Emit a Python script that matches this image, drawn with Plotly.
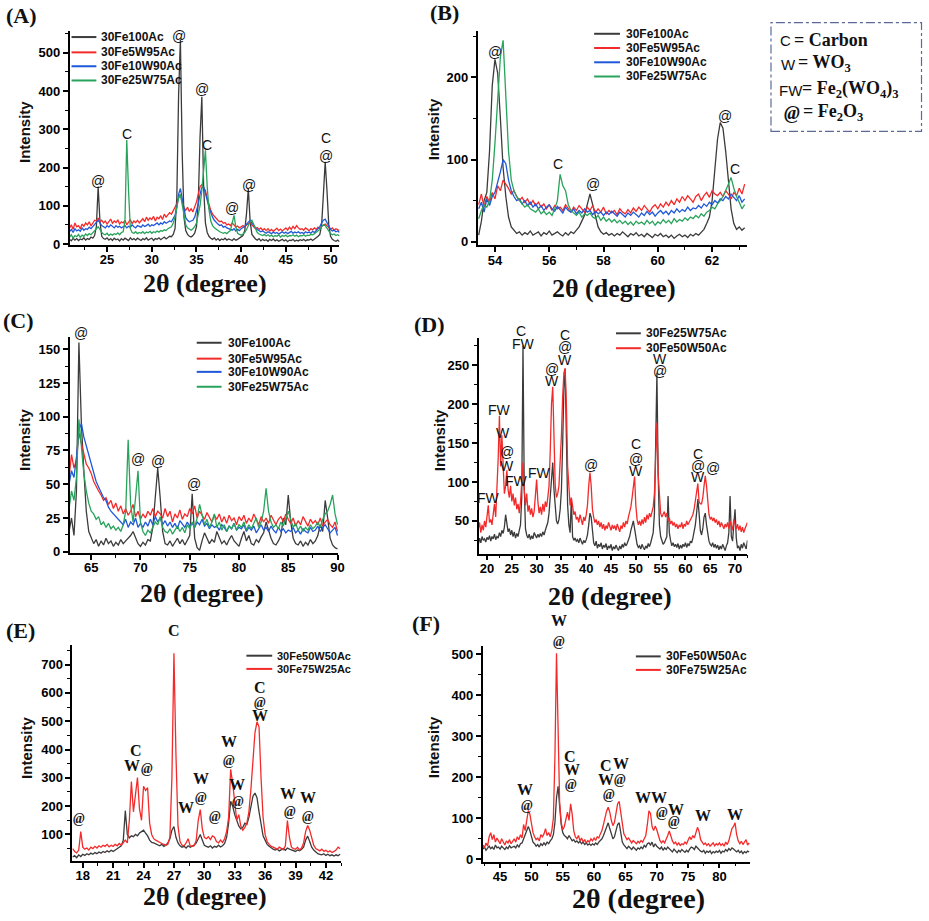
import numpy as np
import plotly.graph_objects as go

W, H = 929, 921

# ---------------- Panel A (2theta grid 20.8 .. 51.0, step 0.2) ----------------
A_X0, A_DX = 20.8, 0.2
A_30Fe100Ac = [
    12, 8, 15, 10, 14, 9, 13, 11, 16, 10,
    14, 12, 18, 15, 22, 45, 150, 60, 20, 14,
    12, 16, 10, 14, 9, 15, 11, 13, 8, 14,
    10, 15, 12, 9, 16, 11, 14, 10, 15, 12,
    9, 14, 11, 16, 10, 13, 15, 9, 14, 12,
    16, 11, 14, 18, 13, 17, 20, 19, 25, 40,
    120, 390, 535, 240, 70, 35, 25, 20, 18, 22,
    28, 45, 110, 280, 385, 150, 55, 30, 20, 15,
    12, 16, 10, 14, 9, 13, 11, 15, 10, 13,
    11, 9, 14, 10, 12, 15, 18, 22, 35, 80,
    145, 60, 25, 18, 13, 10, 14, 8, 12, 9,
    11, 7, 12, 9, 13, 8, 11, 7, 10, 12,
    8, 11, 6, 10, 9, 12, 7, 10, 8, 11,
    9, 12, 8, 11, 10, 13, 9, 12, 15, 20,
    25, 50, 130, 215, 140, 50, 20, 12, 9, 7,
    10, 6]
A_30Fe5W95Ac = [
    42, 50, 38, 55, 45, 48, 40, 52, 46, 55,
    50, 58, 47, 55, 62, 60, 68, 58, 62, 55,
    60, 52, 58, 65, 54, 60, 56, 63, 52, 58,
    55, 62, 50, 58, 64, 53, 60, 56, 62, 55,
    60, 66, 58, 70, 62, 68, 64, 72, 60, 70,
    66, 74, 64, 78, 70, 75, 82, 78, 88, 95,
    105, 120, 130, 110, 95, 88, 96, 85, 92, 84,
    95, 110, 130, 150, 155, 148, 140, 120, 100, 88,
    78, 72, 66, 62, 58, 60, 54, 56, 50, 52,
    48, 55, 50, 44, 47, 42, 45, 48, 44, 50,
    52, 58, 50, 45, 40, 43, 38, 42, 36, 40,
    35, 40, 34, 38, 33, 37, 41, 35, 39, 34,
    38, 42, 36, 44, 38, 46, 40, 48, 42, 38,
    40, 36, 42, 38, 35, 40, 37, 42, 38, 44,
    40, 46, 50, 52, 48, 42, 38, 42, 36, 40,
    38, 35]
A_30Fe10W90Ac = [
    32, 38, 30, 40, 34, 37, 33, 42, 36, 40,
    38, 44, 40, 46, 52, 58, 62, 55, 48, 45,
    42, 48, 44, 50, 45, 42, 48, 44, 46, 42,
    45, 48, 42, 46, 44, 50, 45, 42, 48, 46,
    44, 50, 46, 48, 52, 46, 50, 48, 52, 55,
    50, 55, 52, 58, 54, 56, 60, 58, 65, 75,
    95, 130, 145, 120, 85, 68, 62, 58, 60, 62,
    70, 85, 105, 130, 148, 150, 135, 115, 95, 80,
    70, 62, 56, 52, 48, 50, 44, 46, 42, 40,
    38, 36, 40, 34, 38, 35, 40, 42, 46, 52,
    58, 62, 55, 48, 42, 38, 35, 32, 34, 30,
    28, 32, 30, 27, 31, 28, 30, 26, 29, 32,
    28, 31, 27, 30, 33, 28, 31, 29, 32, 28,
    30, 27, 32, 29, 31, 28, 33, 30, 35, 40,
    45, 55, 62, 65, 55, 45, 38, 34, 36, 32,
    34, 30]
A_30Fe25W75Ac = [
    18, 24, 15, 22, 19, 25, 17, 23, 20, 26,
    22, 27, 24, 30, 36, 42, 45, 38, 30, 26,
    24, 28, 22, 26, 23, 27, 25, 29, 24, 30,
    32, 60, 272, 140, 40, 30, 28, 32, 27, 30,
    28, 32, 27, 31, 29, 33, 28, 32, 30, 34,
    31, 35, 33, 37, 35, 40, 42, 45, 55, 70,
    95, 120, 130, 105, 70, 50, 42, 38, 36, 40,
    45, 55, 75, 100, 140, 200, 245, 150, 90, 60,
    48, 42, 38, 35, 32, 30, 28, 30, 27, 32,
    35, 55, 75, 45, 28, 25, 23, 26, 30, 38,
    48, 58, 62, 50, 38, 30, 26, 24, 22, 25,
    21, 24, 20, 23, 19, 22, 20, 24, 18, 22,
    20, 23, 19, 22, 21, 24, 20, 23, 19, 22,
    21, 24, 20, 23, 22, 25, 24, 27, 30, 35,
    38, 45, 50, 48, 40, 32, 27, 24, 26, 22,
    24, 21]
A_LABELS = [(24.0, 165, "@"), (27.2, 289, "C"), (33.1, 545, "@"), (35.6, 405, "@"),
            (36.2, 259, "C"), (39.0, 95, "@"), (40.9, 153, "@"), (49.5, 276, "C"),
            (49.5, 229, "@")]

# ---------------- Panel B (53.4 .. 63.2, step 0.1) ----------------
B_X0, B_DX = 53.4, 0.1
B_30Fe100Ac = [
    8, 25, 50, 60, 110, 190, 222, 205, 150, 90,
    55, 30, 18, 14, 10, 12, 8, 11, 9, 13,
    8, 10, 12, 7, 11, 9, 13, 8, 10, 12,
    9, 7, 11, 8, 12, 10, 14, 18, 25, 32,
    45, 58, 45, 30, 18, 12, 9, 11, 8, 10,
    7, 10, 8, 12, 9, 6, 10, 8, 11, 7,
    9, 6, 10, 8, 5, 9, 7, 10, 6, 8,
    5, 8, 4, 7, 9, 6, 8, 5, 9, 7,
    10, 8, 12, 15, 22, 30, 50, 85, 125, 145,
    138, 110, 70, 40, 22, 15, 18, 14, 17]
B_30Fe5W95Ac = [
    45, 58, 42, 55, 48, 60, 52, 68, 62, 75,
    70, 65, 58, 62, 55, 50, 54, 48, 52, 45,
    50, 44, 48, 42, 46, 40, 45, 38, 44, 40,
    42, 38, 45, 40, 36, 42, 38, 44, 40, 36,
    42, 38, 44, 35, 40, 36, 42, 34, 38, 35,
    38, 33, 40, 36, 34, 39, 35, 41, 37, 42,
    38, 44, 40, 36, 42, 45, 40, 46, 42, 48,
    44, 50, 45, 52, 48, 55, 50, 56, 52, 48,
    55, 58, 50, 56, 60, 54, 62, 58, 56, 60,
    55, 62, 58, 52, 60, 56, 65, 58, 70]
B_30Fe10W90Ac = [
    40, 48, 36, 52, 44, 55, 60, 72, 85, 100,
    95, 75, 62, 55, 50, 52, 46, 50, 44, 48,
    42, 46, 40, 44, 38, 42, 45, 40, 37, 43,
    39, 35, 42, 38, 36, 40, 34, 38, 35, 40,
    36, 38, 33, 37, 34, 36, 32, 36, 33, 37,
    34, 31, 36, 33, 30, 35, 32, 36, 33, 30,
    35, 32, 37, 33, 36, 31, 35, 38, 34, 37,
    33, 38, 35, 40, 36, 39, 37, 42, 38, 41,
    40, 44, 41, 46, 43, 48, 45, 50, 47, 52,
    50, 55, 52, 58, 54, 50, 56, 48, 52]
B_30Fe25W75Ac = [
    28, 38, 45, 42, 50, 75, 120, 170, 225, 245,
    180, 110, 75, 62, 55, 50, 46, 42, 45, 40,
    38, 36, 40, 34, 37, 33, 36, 32, 40, 50,
    82, 68, 62, 45, 38, 35, 32, 36, 30, 34,
    32, 35, 30, 28, 32, 26, 30, 25, 28, 24,
    27, 23, 26, 22, 25, 21, 24, 20, 25, 22,
    24, 21, 26, 22, 25, 20, 24, 22, 27, 23,
    26, 22, 28, 24, 27, 25, 29, 26, 30, 28,
    32, 29, 34, 31, 36, 38, 42, 40, 46, 50,
    55, 62, 70, 78, 65, 55, 48, 40, 45]
B_LABELS = [(54.0, 231, "@"), (56.34, 95, "C"), (57.6, 70, "@"), (62.46, 153, "@"),
            (62.85, 88, "C")]

# ---------------- Panel C (62.75 .. 90.0, step 0.25) ----------------
C_X0, C_DX = 62.75, 0.25
C_30Fe100Ac = [
    15, 25, 12, 45, 155, 95, 60, 30, 15, 10,
    6, 9, 4, 8, 5, 10, 6, 8, 4, 7,
    5, 9, 6, 8, 10, 12, 15, 10, 6, 4,
    7, 5, 9, 8, 18, 40, 62, 40, 15, 6,
    5, 8, 4, 7, 10, 6, 9, 5, 8, 12,
    43, 10, 3, 1, 8, 14, 10, 6, 9, 7,
    15, 10, 6, 8, 5, 9, 12, 8, 6, 4,
    10, 15, 8, 12, 6, 5, 9, 7, 11, 14,
    22, 15, 10, 6, 5, 8, 12, 25, 20, 42,
    22, 10, 6, 5, 8, 4, 7, 5, 9, 6,
    8, 12, 20, 15, 38, 25, 10, 5, 3, 2]
C_30Fe5W95Ac = [
    55, 72, 62, 68, 88, 80, 72, 65, 62, 58,
    52, 48, 45, 42, 38, 40, 35, 38, 32, 36,
    30, 34, 28, 32, 27, 30, 35, 26, 30, 24,
    28, 25, 30, 27, 32, 26, 30, 28, 25, 32,
    26, 30, 22, 28, 25, 31, 24, 28, 26, 32,
    28, 34, 25, 30, 27, 24, 29, 26, 22, 27,
    24, 28, 22, 26, 21, 27, 23, 25, 20, 26,
    23, 27, 21, 25, 22, 28, 24, 20, 26, 22,
    25, 21, 27, 23, 20, 24, 26, 22, 28, 24,
    21, 25, 19, 23, 20, 26, 22, 19, 24, 21,
    23, 20, 25, 19, 22, 24, 20, 18, 22, 15]
C_30Fe10W90Ac = [
    50, 60, 55, 70, 90, 95, 85, 78, 72, 65,
    58, 52, 48, 44, 40, 38, 33, 30, 28, 26,
    24, 22, 20, 24, 18, 22, 20, 25, 18, 21,
    18, 22, 19, 24, 20, 26, 22, 25, 20, 23,
    19, 22, 18, 21, 17, 23, 20, 18, 22, 19,
    21, 18, 22, 20, 24, 19, 21, 17, 20, 18,
    19, 16, 20, 18, 15, 19, 17, 21, 16, 18,
    17, 20, 15, 18, 16, 19, 14, 17, 20, 16,
    18, 15, 19, 16, 14, 18, 15, 17, 14, 16,
    15, 18, 14, 16, 13, 17, 15, 14, 18, 15,
    16, 19, 15, 18, 20, 17, 14, 16, 18, 12]
C_30Fe25W75Ac = [
    32, 45, 38, 55, 98, 78, 58, 45, 36, 30,
    28, 24, 26, 20, 22, 18, 21, 17, 19, 16,
    18, 15, 20, 30, 83, 35, 22, 40, 60, 22,
    15, 12, 16, 14, 18, 22, 20, 26, 18, 15,
    14, 17, 13, 16, 19, 15, 18, 14, 20, 17,
    22, 18, 25, 35, 28, 20, 24, 18, 22, 28,
    18, 22, 16, 20, 15, 19, 17, 21, 16, 20,
    18, 22, 16, 20, 17, 21, 25, 18, 22, 30,
    47, 30, 22, 18, 20, 17, 22, 19, 25, 30,
    24, 18, 21, 16, 19, 15, 18, 16, 20, 17,
    19, 22, 18, 24, 28, 30, 35, 42, 28, 20]
C_LABELS = [(64.0, 162, "@"), (69.7, 69, "@"), (71.8, 67, "@"), (75.4, 50, "@")]

# ---------------- Panel D (18.25 .. 72.5, step 0.25) ----------------
D_X0, D_DX = 18.25, 0.25
D_30Fe25W75Ac = [
    20, 28, 22, 30, 25, 27, 23, 29, 26, 31,
    24, 30, 27, 33, 26, 30, 28, 35, 30, 38,
    34, 42, 58, 45, 36, 40, 32, 38, 30, 36,
    28, 34, 30, 38, 45, 80, 275, 95, 40, 32,
    28, 33, 26, 31, 27, 35, 30, 28, 33, 29,
    34, 30, 36, 32, 38, 42, 48, 60, 85, 110,
    125, 90, 62, 50, 46, 52, 65, 90, 150, 220,
    245, 150, 70, 45, 35, 78, 30, 25, 28, 24,
    26, 22, 28, 24, 20, 25, 22, 26, 32, 45,
    60, 55, 35, 22, 18, 24, 15, 20, 17, 22,
    14, 19, 16, 21, 13, 18, 15, 20, 12, 17,
    14, 19, 15, 12, 18, 14, 20, 16, 22, 18,
    21, 25, 30, 38, 45, 50, 40, 28, 20, 16,
    18, 14, 20, 16, 13, 18, 15, 21, 17, 22,
    28, 35, 60, 140, 240, 110, 45, 30, 24, 20,
    22, 26, 30, 82, 35, 25, 18, 22, 17, 20,
    16, 21, 14, 19, 15, 20, 17, 22, 16, 21,
    18, 24, 22, 28, 35, 45, 60, 78, 60, 38,
    32, 40, 55, 60, 45, 30, 24, 20, 18, 22,
    16, 20, 15, 19, 13, 18, 14, 20, 16, 12,
    18, 22, 35, 82, 30, 24, 45, 65, 28, 15,
    18, 12, 20, 15, 22, 17, 14, 25]
D_30Fe50W50Ac = [
    40, 48, 35, 45, 38, 50, 42, 55, 70, 48,
    52, 45, 60, 72, 55, 90, 130, 185, 120, 160,
    110, 85, 95, 115, 90, 80, 95, 75, 85, 70,
    80, 65, 72, 60, 75, 95, 125, 90, 70, 85,
    62, 70, 58, 66, 55, 62, 80, 103, 75, 60,
    68, 58, 72, 62, 75, 68, 80, 95, 140, 200,
    222, 160, 95, 80, 85, 95, 120, 160, 210, 240,
    246, 200, 120, 85, 70, 80, 65, 58, 62, 52,
    55, 48, 58, 52, 45, 55, 50, 58, 70, 95,
    112, 95, 65, 55, 48, 52, 45, 50, 42, 48,
    40, 46, 38, 44, 40, 48, 42, 38, 45, 40,
    44, 38, 46, 40, 36, 44, 40, 48, 42, 50,
    46, 55, 60, 68, 80, 95, 107, 70, 52, 45,
    50, 44, 52, 46, 55, 48, 58, 52, 60, 55,
    62, 68, 85, 130, 176, 110, 75, 60, 55, 58,
    62, 55, 60, 50, 54, 46, 50, 44, 48, 42,
    46, 40, 45, 42, 48, 40, 46, 43, 50, 45,
    48, 52, 55, 58, 65, 78, 88, 98, 75, 72,
    72, 80, 95, 108, 95, 70, 58, 52, 55, 50,
    54, 48, 52, 45, 50, 42, 48, 44, 40, 46,
    42, 48, 40, 50, 45, 38, 52, 44, 40, 46,
    38, 44, 36, 42, 35, 40, 45, 48]
D_LABELS = [(20.3, 79, "FW"), (22.5, 192, "FW"), (23.3, 163, "W"), (24.1, 138, "@"),
            (24.1, 121, "W"), (26.0, 101, "FW"), (26.9, 294, "C"), (27.3, 277, "FW"),
            (30.5, 112, "FW"), (33.0, 245, "@"), (33.0, 230, "W"), (35.7, 289, "C"),
            (35.7, 273, "@"), (35.7, 256, "W"), (54.8, 258, "W"), (54.8, 243, "@"),
            (41.0, 122, "@"), (50.0, 149, "C"), (50.0, 130, "@"), (50.0, 114, "W"),
            (62.5, 136, "C"), (62.5, 121, "@"), (62.5, 106, "W"), (65.6, 118, "@")]

# ---------------- Panel E (17.0 .. 43.4, step 0.2) ----------------
E_X0, E_DX = 17.0, 0.2
E_30Fe50W50Ac = [
    20, 25, 18, 28, 22, 30, 26, 32, 28, 34,
    30, 36, 32, 38, 34, 40, 36, 42, 38, 44,
    40, 46, 50, 55, 60, 80, 184, 100, 88, 95,
    92, 100, 95, 105, 110, 115, 105, 95, 80, 72,
    70, 66, 62, 60, 65, 58, 62, 70, 85, 115,
    128, 90, 70, 60, 55, 58, 52, 60, 55, 58,
    62, 70, 85, 100, 80, 62, 58, 55, 60, 52,
    58, 55, 62, 56, 60, 68, 90, 140, 217, 200,
    170, 150, 130, 120, 125, 140, 135, 160, 200, 235,
    246, 230, 180, 130, 95, 80, 65, 58, 52, 48,
    45, 48, 42, 46, 50, 44, 52, 48, 45, 42,
    40, 45, 42, 48, 55, 80, 94, 75, 55, 45,
    38, 32, 30, 28, 32, 26, 30, 25, 28, 24,
    28, 25, 30]
E_30Fe75W25Ac = [
    50, 40, 35, 45, 110, 55, 48, 52, 45, 55,
    50, 58, 52, 60, 55, 62, 58, 65, 56, 62,
    58, 65, 60, 68, 62, 72, 80, 70, 150, 287,
    180, 240, 301, 190, 150, 270, 255, 265, 140, 100,
    85, 80, 75, 72, 68, 65, 62, 65, 90, 300,
    740, 380, 130, 75, 62, 60, 70, 85, 60, 58,
    60, 80, 150, 188, 120, 90, 85, 92, 82, 95,
    90, 75, 70, 80, 72, 85, 110, 160, 330, 280,
    220, 150, 170, 130, 115, 125, 140, 180, 260, 380,
    460, 498, 480, 300, 160, 100, 75, 65, 58, 55,
    52, 48, 55, 50, 46, 60, 149, 90, 55, 50,
    48, 55, 45, 52, 70, 110, 132, 115, 90, 62,
    50, 45, 42, 48, 40, 44, 38, 42, 36, 40,
    45, 55, 50]
E_LABELS = [(17.67, 158, "@"), (23.22, 395, "C"), (22.83, 343, "W"), (24.37, 334, "@"),
            (27.05, 819, "C"), (28.2, 194, "W"), (29.66, 299, "W"), (29.66, 231, "@"),
            (31.06, 164, "@"), (32.47, 428, "W"), (32.47, 361, "@"), (33.18, 275, "W"),
            (33.35, 217, "@"), (35.47, 620, "C"), (35.47, 565, "@"), (35.47, 521, "W"),
            (38.24, 246, "W"), (38.41, 182, "@"), (40.2, 231, "W"), (40.27, 164, "@")]

# ---------------- Panel F (42.25 .. 84.75, step 0.25) ----------------
F_X0, F_DX = 42.25, 0.25
F_30Fe50W50Ac = [
    25, 30, 22, 28, 32, 26, 30, 24, 35, 28,
    30, 25, 32, 28, 24, 30, 26, 33, 28, 30,
    32, 28, 35, 30, 38, 40, 50, 60, 75, 80,
    70, 55, 42, 38, 32, 36, 30, 38, 34, 40,
    35, 42, 38, 45, 50, 60, 90, 150, 178, 130,
    85, 65, 58, 55, 50, 58, 52, 45, 48, 42,
    45, 40, 44, 38, 42, 36, 40, 35, 38, 34,
    38, 35, 40, 36, 42, 45, 50, 58, 70, 80,
    89, 75, 60, 50, 55, 70, 85, 89, 60, 42,
    35, 30, 26, 32, 28, 24, 30, 26, 22, 28,
    25, 30, 26, 34, 30, 38, 40, 35, 42, 30,
    38, 32, 28, 25, 30, 22, 28, 24, 30, 25,
    22, 18, 25, 20, 16, 22, 18, 24, 20, 17,
    22, 18, 25, 30, 28, 24, 32, 27, 24, 20,
    18, 22, 15, 20, 17, 21, 14, 19, 16, 20,
    17, 22, 15, 20, 18, 24, 20, 26, 22, 28,
    25, 22, 18, 22, 16, 20, 14, 19, 16, 20,
    18]
F_30Fe75W25Ac = [
    35, 28, 40, 32, 55, 65, 48, 60, 42, 52,
    45, 38, 50, 42, 35, 45, 40, 48, 38, 44,
    50, 42, 55, 48, 60, 52, 85, 70, 100, 119,
    110, 90, 65, 55, 48, 52, 45, 60, 55, 62,
    75, 58, 65, 55, 70, 100, 250, 502, 320, 140,
    90, 72, 80, 100, 115, 95, 135, 110, 70, 55,
    50, 58, 45, 52, 42, 48, 40, 46, 42, 50,
    45, 52, 46, 55, 52, 62, 70, 85, 105, 118,
    127, 115, 95, 82, 90, 112, 135, 141, 110, 80,
    62, 55, 48, 52, 45, 40, 46, 42, 38, 44,
    40, 46, 42, 50, 58, 85, 118, 112, 80, 70,
    81, 72, 55, 46, 40, 45, 40, 48, 58, 69,
    55, 45, 38, 42, 35, 40, 34, 38, 36, 42,
    38, 45, 55, 48, 58, 52, 65, 78, 68, 48,
    42, 36, 40, 34, 38, 32, 36, 40, 33, 38,
    35, 40, 34, 38, 32, 42, 36, 45, 60, 75,
    80, 89, 60, 45, 38, 44, 36, 42, 48, 35,
    40]
F_LABELS = [(54.41, 581, "W"), (54.41, 530, "@"), (56.1, 250, "C"), (56.53, 220, "W"),
            (56.37, 183, "@"), (48.97, 169, "W"), (49.34, 131, "@"), (61.92, 228, "C"),
            (64.3, 234, "W"), (61.82, 194, "W"), (62.45, 159, "@"), (64.14, 194, "@"),
            (69.1, 151, "WW"), (70.8, 114, "@"), (73.13, 121, "W"), (72.76, 93, "@"),
            (77.42, 106, "W"), (82.44, 109, "W")]

# ---------------- styling ----------------
BLACK, RED, BLUE, GREEN = "#3b3b3b", "#f42a2a", "#1f58d8", "#28a35b"
SANS = "Liberation Sans, Arial, sans-serif"
SERIF = "Liberation Serif, Times New Roman, serif"


def PX(x):
    return x / W


def PY(y):
    return 1 - y / H


panels = [
    dict(px=(70, 341.7), py=(31.7, 246.7), xr=(20.8, 51.0), yr=(-3, 556), xd=5, xm=2.5, yd=100, ym=50,
         x0=A_X0, dx=A_DX,
         series=[("30Fe100Ac", A_30Fe100Ac, BLACK), ("30Fe5W95Ac", A_30Fe5W95Ac, RED),
                 ("30Fe10W90Ac", A_30Fe10W90Ac, BLUE), ("30Fe25W75Ac", A_30Fe25W75Ac, GREEN)],
         labels=A_LABELS, serif=False, leg=(72, 97, 100, [37.3, 52.7, 66.7, 81], 12),
         xt=(206, 285, 26), yt=(24, 133), tag=("(A)", 22, 16)),
    dict(px=(480.7, 751.7), py=(30.7, 247), xr=(53.36, 63.28), yr=(-4.5, 257), xd=2, xm=1, yd=100, ym=50,
         x0=B_X0, dx=B_DX,
         series=[("30Fe100Ac", B_30Fe100Ac, BLACK), ("30Fe5W95Ac", B_30Fe5W95Ac, RED),
                 ("30Fe10W90Ac", B_30Fe10W90Ac, BLUE), ("30Fe25W75Ac", B_30Fe25W75Ac, GREEN)],
         labels=B_LABELS, serif=False, leg=(598, 624, 627.7, [34, 48.3, 62.7, 77], 12),
         xt=(618, 290, 26), yt=(436, 130), tag=("(B)", 447, 13)),
    dict(px=(70, 340.7), py=(339.3, 556.7), xr=(62.8, 90.1), yr=(-1, 159), xd=5, xm=2.5, yd=25, ym=12.5,
         x0=C_X0, dx=C_DX,
         series=[("30Fe100Ac", C_30Fe100Ac, BLACK), ("30Fe5W95Ac", C_30Fe5W95Ac, RED),
                 ("30Fe10W90Ac", C_30Fe10W90Ac, BLUE), ("30Fe25W75Ac", C_30Fe25W75Ac, GREEN)],
         labels=C_LABELS, serif=False, leg=(198, 223, 227, [345, 361, 374.3, 389.3], 12),
         xt=(203, 597, 26), yt=(24, 443), tag=("(C)", 19, 323)),
    dict(px=(481.7, 752.3), py=(340, 557.3), xr=(18.3, 72.5), yr=(8, 285), xd=5, xm=2.5, yd=50, ym=25,
         x0=D_X0, dx=D_DX,
         series=[("30Fe25W75Ac", D_30Fe25W75Ac, BLACK), ("30Fe50W50Ac", D_30Fe50W50Ac, RED)],
         labels=D_LABELS, serif=False, leg=(620, 645, 648.3, [335.5, 350.5], 12),
         xt=(614, 600, 26), yt=(442, 443), tag=("(D)", 432, 327)),
    dict(px=(72.7, 343.3), py=(649.3, 866.7), xr=(16.96, 43.5), yr=(6, 769), xd=3, xm=1.5, yd=100, ym=50,
         x0=E_X0, dx=E_DX,
         series=[("30Fe50W50Ac", E_30Fe50W50Ac, BLACK), ("30Fe75W25Ac", E_30Fe75W25Ac, RED)],
         labels=E_LABELS, serif=True, leg=(248, 274, 276.7, [660, 673.3], 11),
         xt=(206, 902, 26), yt=(26, 753), tag=("(E)", 21, 635)),
    dict(px=(485.7, 755), py=(650.7, 867.3), xr=(42.2, 84.9), yr=(-5.6, 518.5), xd=5, xm=2.5, yd=100, ym=50,
         x0=F_X0, dx=F_DX,
         series=[("30Fe50W50Ac", F_30Fe50W50Ac, BLACK), ("30Fe75W25Ac", F_30Fe75W25Ac, RED)],
         labels=F_LABELS, serif=True, leg=(640, 665, 668.3, [660.7, 674.3], 12),
         xt=(643, 904, 28), yt=(436, 752), tag=("(F)", 429, 628)),
]


def data_to_paper(p, x, y):
    # place a label given in data units at the matching paper position (labels may sit above the range)
    fx = (x - p["xr"][0]) / (p["xr"][1] - p["xr"][0])
    fy = (y - p["yr"][0]) / (p["yr"][1] - p["yr"][0])
    px = p["px"][0] + fx * (p["px"][1] - p["px"][0])
    py = p["py"][1] - fy * (p["py"][1] - p["py"][0])
    return PX(px), PY(py)


fig = go.Figure()
annotations = []
shapes = []
TICKFONT = dict(family=SANS, size=13, color="black", weight="bold")

for i, p in enumerate(panels, start=1):
    sfx = "" if i == 1 else str(i)
    xname, yname = "x" + sfx, "y" + sfx
    for name, vals, col in p["series"]:
        xs = p["x0"] + p["dx"] * np.arange(len(vals))
        fig.add_trace(go.Scatter(x=xs, y=vals, mode="lines", name=name,
                                 line=dict(color=col, width=1.3),
                                 xaxis=xname, yaxis=yname, showlegend=False, hoverinfo="skip"))
    common = dict(showline=True, linecolor="black", linewidth=1.5, ticks="outside", ticklen=5,
                  tickwidth=1.5, tickcolor="black", showgrid=False, zeroline=False,
                  tickfont=TICKFONT, tick0=0)
    fig.update_layout({
        "xaxis" + sfx: dict(domain=[PX(p["px"][0]), PX(p["px"][1])], range=list(p["xr"]),
                            anchor=yname, dtick=p["xd"], ticklabelstandoff=-3,
                            minor=dict(ticks="outside", ticklen=3, tickwidth=1, tickcolor="black",
                                       dtick=p["xm"], tick0=0, showgrid=False), **common),
        "yaxis" + sfx: dict(domain=[PY(p["py"][1]), PY(p["py"][0])], range=list(p["yr"]),
                            anchor=xname, dtick=p["yd"],
                            minor=dict(ticks="outside", ticklen=3, tickwidth=1, tickcolor="black",
                                       dtick=p["ym"], tick0=0, showgrid=False), **common),
    })
    # peak labels
    for (lx, ly, txt) in p["labels"]:
        if p["serif"]:
            if txt == "@":
                fnt = dict(family=SERIF, size=14, color="#222", style="italic", weight="bold")
            else:
                fnt = dict(family=SERIF, size=16, color="#111", weight="bold")
        else:
            fnt = dict(family=SANS, size=14, color="#111")
        ax_, ay_ = data_to_paper(p, lx, ly)
        annotations.append(dict(x=ax_, y=ay_, xref="paper", yref="paper", text=txt, showarrow=False,
                                xanchor="center", yanchor="middle", font=fnt))
    # legend
    lx0, lx1, tx, ys, fs = p["leg"]
    for (name, vals, col), yy in zip(p["series"], ys):
        shapes.append(dict(type="line", xref="paper", yref="paper", x0=PX(lx0), x1=PX(lx1),
                           y0=PY(yy), y1=PY(yy), line=dict(color=col, width=2)))
        annotations.append(dict(x=PX(tx), y=PY(yy), xref="paper", yref="paper", text=name,
                                showarrow=False, xanchor="left", yanchor="middle",
                                font=dict(family=SANS, size=fs, color="#111", weight="bold")))
    # axis titles
    cx, cy, fsz = p["xt"]
    annotations.append(dict(x=PX(cx), y=PY(cy), xref="paper", yref="paper", text="2θ (degree)",
                            showarrow=False, xanchor="center", yanchor="middle",
                            font=dict(family=SERIF, size=fsz, color="#111", weight="bold")))
    yx, yy = p["yt"]
    annotations.append(dict(x=PX(yx), y=PY(yy), xref="paper", yref="paper", text="Intensity",
                            showarrow=False, xanchor="center", yanchor="middle", textangle=-90,
                            font=dict(family=SANS, size=15, color="#111", weight="bold")))
    tg, tx_, ty_ = p["tag"]
    annotations.append(dict(x=PX(tx_), y=PY(ty_), xref="paper", yref="paper", text=tg,
                            showarrow=False, xanchor="center", yanchor="middle",
                            font=dict(family=SERIF, size=22, color="#111", weight="bold")))

# key box
shapes.append(dict(type="rect", xref="paper", yref="paper", x0=PX(776), x1=PX(927.5),
                   y0=PY(132.3), y1=PY(22.7), line=dict(color="#5b6a99", width=1.2, dash="dashdot")))
KEY = [("C", 783, 41, "= Carbon", 797, 40),
       ("W", 784, 65, "= WO<sub>3</sub>", 801, 64),
       ("FW", 782, 91, "= Fe<sub>2</sub>(WO<sub>4</sub>)<sub>3</sub>", 805, 90),
       ("@", 787, 113, "= Fe<sub>2</sub>O<sub>3</sub>", 806, 113)]
for sym, sx, sy, rest, rx, ry in KEY:
    if sym == "@":
        sf = dict(family=SERIF, size=19, color="#111", style="italic", weight="bold")
    else:
        sf = dict(family=SANS, size=15, color="#111")
    annotations.append(dict(x=PX(sx), y=PY(sy), xref="paper", yref="paper", text=sym,
                            showarrow=False, xanchor="left", yanchor="middle", font=sf))
    annotations.append(dict(x=PX(rx), y=PY(ry), xref="paper", yref="paper", text=rest,
                            showarrow=False, xanchor="left", yanchor="middle",
                            font=dict(family=SERIF, size=18, color="#111", weight="bold")))

fig.update_layout(width=W, height=H, autosize=False, margin=dict(l=0, r=0, t=0, b=0),
                  paper_bgcolor="white", plot_bgcolor="white", showlegend=False,
                  annotations=annotations, shapes=shapes)

fig.write_html("out.html", config={"displayModeBar": False},
               post_script="document.body.style.margin='0';document.body.style.overflow='hidden';")
